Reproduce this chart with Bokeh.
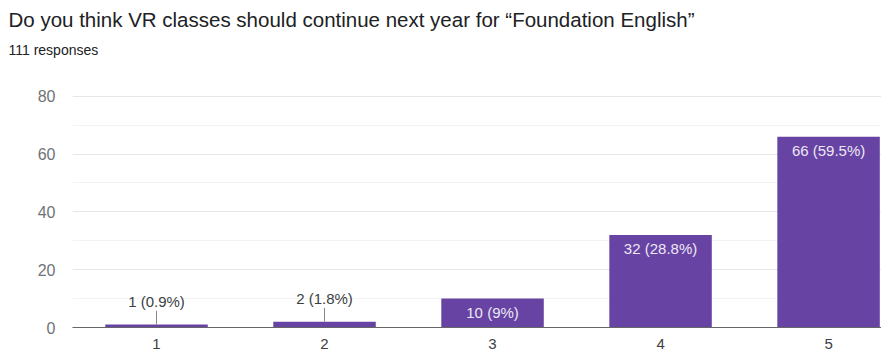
from bokeh.plotting import figure
from bokeh.models import ColumnDataSource, FixedTicker, Title, Range1d
from bokeh.embed import file_html
from bokeh.resources import INLINE
from bokeh.core.properties import value

categories = ["1", "2", "3", "4", "5"]
counts = [1, 2, 10, 32, 66]
labels = ["1 (0.9%)", "2 (1.8%)", "10 (9%)", "32 (28.8%)", "66 (59.5%)"]
y_ticks = [0, 20, 40, 60, 80]
y_minor = [10, 30, 50, 70]

title_text = "Do you think VR classes should continue next year for \u201cFoundation English\u201d"
subtitle_text = "111 responses"

FONT = "Liberation Sans"
BAR = "#6744A3"

xs = [i + 1 for i in range(len(categories))]
src = ColumnDataSource(dict(x=xs, top=counts, label=labels))

inside = [i for i, c in enumerate(counts) if c >= 5]
outside = [i for i, c in enumerate(counts) if c < 5]
src_in = ColumnDataSource(dict(x=[xs[i] for i in inside], y=[counts[i] for i in inside],
                               label=[labels[i] for i in inside]))
src_out = ColumnDataSource(dict(x=[xs[i] for i in outside], y=[counts[i] for i in outside],
                                y1=[counts[i] + 4.8 for i in outside],
                                label=[labels[i] for i in outside]))

p = figure(width=881, height=352, output_backend="svg", toolbar_location=None,
           x_range=Range1d(0.5, 5.315), y_range=Range1d(0, 92),
           min_border_left=72, min_border_right=0, min_border_bottom=25, min_border_top=0)
p.outline_line_color = None
p.background_fill_color = "white"

p.add_layout(Title(text=subtitle_text, text_font=FONT, text_font_size="14px",
                   text_color="#202124", text_font_style="normal", align="left",
                   offset=-64, standoff=8), "above")
p.add_layout(Title(text=title_text, text_font=FONT, text_font_size="20.5px",
                   text_color="#202124", text_font_style="normal", align="left",
                   offset=-64), "above")

p.vbar(x="x", top="top", width=0.61, bottom=0, source=src, fill_color=BAR, line_color=None)

p.segment(x0="x", y0="y", x1="x", y1="y1", source=src_out, line_color="#888888", line_width=1)
p.text(x="x", y="y1", text="label", source=src_out, text_align="center",
       text_baseline="bottom", y_offset=-1, text_font=value(FONT), text_font_size="15px",
       text_color="#3c4043")
p.text(x="x", y="y", text="label", source=src_in, text_align="center",
       text_baseline="top", y_offset=5, text_font=value(FONT), text_font_size="15px",
       text_color="#ede7f6")

p.yaxis.ticker = FixedTicker(ticks=y_ticks, minor_ticks=y_minor)
p.yaxis.axis_line_color = None
p.yaxis.major_tick_line_color = None
p.yaxis.minor_tick_line_color = None
p.yaxis.major_label_standoff = 11
p.yaxis.major_label_text_font = FONT
p.yaxis.major_label_text_font_size = "16px"
p.yaxis.major_label_text_color = "#6f7377"

p.xaxis.ticker = FixedTicker(ticks=xs)
p.xaxis.major_label_overrides = {x: c for x, c in zip(xs, categories)}
p.xaxis.axis_line_color = "#666666"
p.xaxis.major_tick_line_color = None
p.xaxis.minor_tick_line_color = None
p.xaxis.major_label_standoff = 5
p.xaxis.major_label_text_font = FONT
p.xaxis.major_label_text_font_size = "15px"
p.xaxis.major_label_text_color = "#3c4043"

p.xgrid.grid_line_color = None
p.ygrid.ticker = FixedTicker(ticks=y_ticks, minor_ticks=y_minor)
p.ygrid.grid_line_color = "#e6e6e6"
p.ygrid.minor_grid_line_color = "#f3f3f3"

open("out.html", "w").write(file_html(p, INLINE))
